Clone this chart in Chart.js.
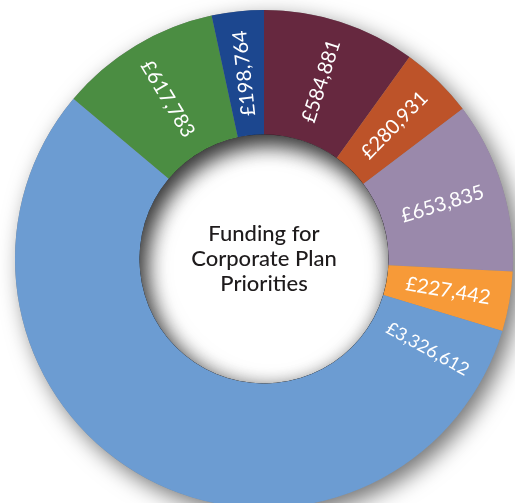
<!DOCTYPE html>
<html>
<head>
<meta charset="utf-8">
<script src="https://cdn.jsdelivr.net/npm/chart.js@4"></script>
<style>
    html, body { margin: 0; padding: 0; background: #fff; overflow: hidden; }
    #wrap { position: absolute; left: 0; top: 0; width: 528px; height: 518px; }
</style>
</head>
<body>
<div id="wrap"><canvas id="fundingChart"></canvas></div>
<script>
// clockwise from 12 o'clock
const priorities = ['Priority A', 'Priority B', 'Priority C', 'Priority D', 'Priority E', 'Priority F', 'Priority G'];
const funding = [584881, 280931, 653835, 227442, 3326612, 617783, 198764];
const sliceColours = ['#66283f', '#bd5329', '#9a89ab', '#f79a38', '#6c9cd2', '#4b8d42', '#1c478f'];
const centreLines = ['Funding for', 'Corporate Plan', 'Priorities'];

window.onload = function() {
    const ringShadow = {
        id: 'ringShadow',
        beforeDatasetsDraw: function(chart) {
            const arc = chart.getDatasetMeta(0).data[0];
            const ctx = chart.ctx;
            ctx.save();
            ctx.beginPath();
            ctx.arc(arc.x, arc.y, arc.outerRadius, 0, Math.PI * 2);
            ctx.arc(arc.x, arc.y, arc.innerRadius, 0, Math.PI * 2, true);
            ctx.shadowColor = 'rgba(0, 0, 0, 0.55)';
            ctx.shadowBlur = 22;
            ctx.shadowOffsetX = 7;
            ctx.shadowOffsetY = 8;
            ctx.fillStyle = '#888';
            ctx.fill();
            ctx.restore();
        }
    };

    // inset shadow along the top of the hole
    const holeShadow = {
        id: 'holeShadow',
        afterDatasetsDraw: function(chart) {
            const arc = chart.getDatasetMeta(0).data[0];
            const ctx = chart.ctx;
            ctx.save();
            ctx.beginPath();
            ctx.arc(arc.x, arc.y, arc.innerRadius, 0, Math.PI * 2);
            ctx.clip();
            ctx.beginPath();
            ctx.arc(arc.x, arc.y, arc.innerRadius + 80, 0, Math.PI * 2);
            ctx.arc(arc.x, arc.y, arc.innerRadius, 0, Math.PI * 2, true);
            ctx.shadowColor = 'rgba(0, 0, 0, 0.6)';
            ctx.shadowBlur = 22;
            ctx.shadowOffsetX = 3;
            ctx.shadowOffsetY = 9;
            ctx.fillStyle = '#000';
            ctx.fill();
            ctx.restore();
        }
    };

    const sliceLabels = {
        id: 'sliceLabels',
        afterDatasetsDraw: function(chart) {
            const ctx = chart.ctx;
            chart.getDatasetMeta(0).data.forEach(function(arc, i) {
                let angle = (arc.startAngle + arc.endAngle) / 2;
                let size = 20;
                // the big slice has its label near its start
                if (arc.endAngle - arc.startAngle > Math.PI) {
                    angle = arc.startAngle + 0.21;
                    size = 18;
                }
                const r = (arc.innerRadius + arc.outerRadius) / 2;
                let rot = angle;
                if (Math.cos(angle) < -0.2) rot += Math.PI;
                ctx.save();
                ctx.translate(arc.x + r * Math.cos(angle), arc.y + r * Math.sin(angle));
                ctx.rotate(rot);
                ctx.fillStyle = '#fff';
                ctx.font = size + 'px Lato';
                ctx.textAlign = 'center';
                ctx.textBaseline = 'middle';
                ctx.fillText('£' + funding[i].toLocaleString('en-GB'), 0, 0);
                ctx.restore();
            });
        }
    };

    const centreText = {
        id: 'centreText',
        afterDraw: function(chart) {
            const arc = chart.getDatasetMeta(0).data[0];
            const ctx = chart.ctx;
            ctx.save();
            ctx.fillStyle = '#1e1b1c';
            ctx.font = '500 22px Lato';
            ctx.textAlign = 'center';
            ctx.textBaseline = 'middle';
            centreLines.forEach(function(line, i) {
                ctx.fillText(line, arc.x, arc.y + (i - 1) * 25);
            });
            ctx.restore();
        }
    };

    const ctx = document.getElementById('fundingChart').getContext('2d');
    new Chart(ctx, {
        type: 'doughnut',
        data: {
            labels: priorities,
            datasets: [{
                data: funding,
                backgroundColor: sliceColours,
                borderWidth: 0,
                hoverOffset: 0
            }]
        },
        options: {
            responsive: true,
            maintainAspectRatio: false,
            animation: false,
            events: [],
            cutout: '50%',
            layout: { padding: 10, autoPadding: false },
            plugins: {
                legend: { display: false },
                tooltip: { enabled: false }
            }
        },
        plugins: [ringShadow, holeShadow, sliceLabels, centreText]
    });
};
</script>
</body>
</html>
